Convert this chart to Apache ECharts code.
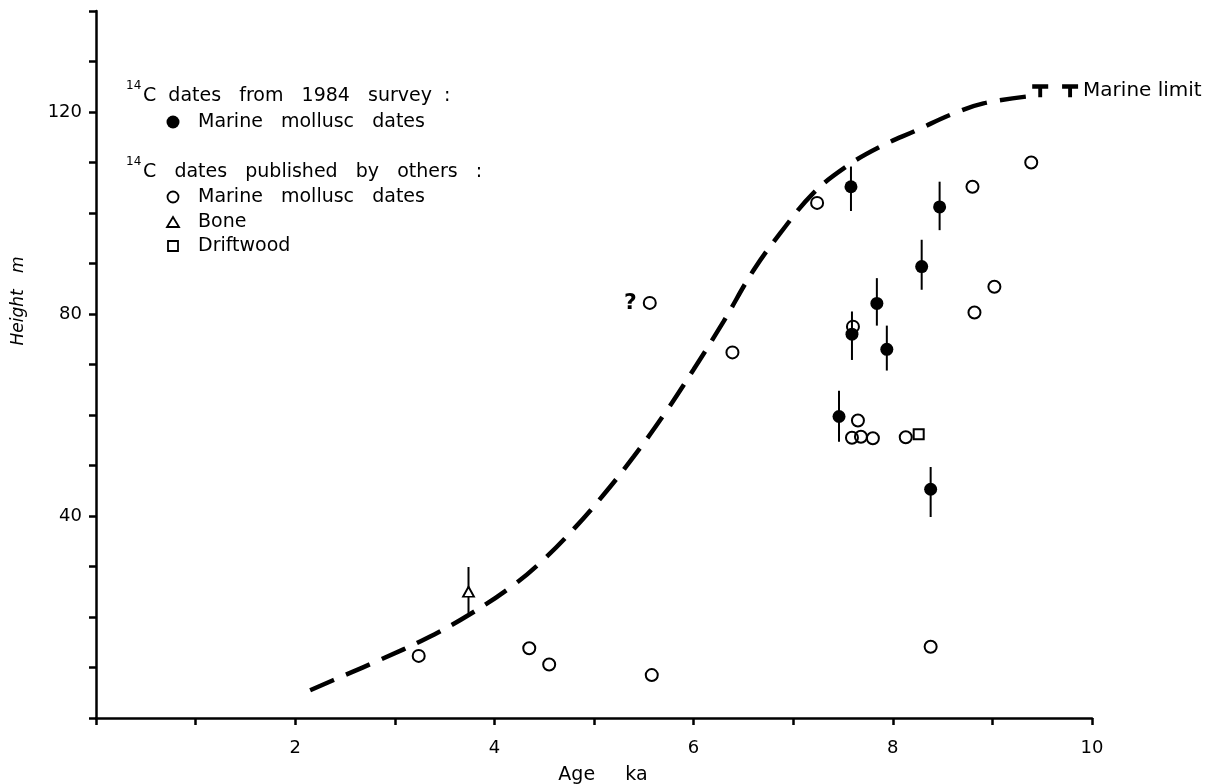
<!DOCTYPE html>
<html>
<head>
<meta charset="utf-8">
<script src="https://cdn.jsdelivr.net/npm/echarts@6/dist/echarts.min.js"></script>
<style>
html,body{margin:0;padding:0;background:#fff;}
#chart{width:1226px;height:784px;}
</style>
</head>
<body>
<div id="chart"></div>
<script>
// ---- Data ----
// 14C dates from 1984 survey: marine mollusc dates (filled circles, with error bars)
const surveyAge    = [7.58, 8.47, 8.29, 7.84, 7.59, 7.94, 7.46, 8.38];
const surveyHeight = [105.2, 101.2, 89.4, 82.1, 76.0, 73.0, 59.7, 45.3];
const surveyLow    = [100.4, 96.6, 84.8, 77.7, 70.9, 68.8, 54.7, 39.8];
const surveyHigh   = [109.2, 106.2, 94.7, 87.1, 80.5, 77.7, 64.8, 49.7];

// 14C dates published by others: marine mollusc dates (open circles)
const othersAge    = [3.24, 4.35, 4.55, 5.58, 5.56, 6.39, 7.24, 7.60, 7.65, 7.59, 7.68, 7.80, 8.13, 8.80, 8.82, 9.02, 9.39, 8.38];
const othersHeight = [12.3, 13.8, 10.6, 8.5, 82.2, 72.4, 102.0, 77.5, 58.9, 55.5, 55.7, 55.4, 55.6, 105.2, 80.3, 85.4, 110.0, 14.1];
const othersNote   = ['', '', '', '', '?', '', '', '', '', '', '', '', '', '', '', '', '', ''];

// Bone (triangle, with range)
const boneAge = [3.74];
const boneHeight = [25.0];
const boneLow = [20.8];
const boneHigh = [29.9];

// Driftwood (square)
const driftAge = [8.26];
const driftHeight = [56.2];

// Dashed relative sea-level curve
const curveAge    = [2.15, 2.5, 2.85, 3.32, 3.75, 4.19, 4.49, 4.8, 5.1, 5.4, 5.7, 6.0, 6.3, 6.6, 6.87, 7.2, 7.54, 7.87, 8.24, 8.61, 8.91, 9.36];
const curveHeight = [5.5, 8.5, 11.5, 15.8, 20.5, 26.3, 31.3, 37.5, 44.3, 51.8, 60.0, 69.0, 78.5, 88.6, 96.0, 103.9, 109.3, 113.1, 116.4, 119.7, 121.7, 123.1];

// Marine limit markers
const limitAge = [9.48, 9.78];
const limitHeight = [124.2, 124.2];
const limitLabel = ['', 'Marine limit'];

// Axis tick labels
const xLabelValues = [2, 4, 6, 8, 10];
const yLabelValues = [40, 80, 120];

// ---- Chart ----
const FONT = 'DejaVu Sans';
const chart = echarts.init(document.getElementById('chart'));

const zip = (a, b) => a.map((v, i) => [v, b[i]]);

const errRender = function (params, api) {
  const x = api.value(0), lo = api.value(1), hi = api.value(2);
  const p1 = api.coord([x, lo]);
  const p2 = api.coord([x, hi]);
  return {
    type: 'line',
    shape: { x1: p1[0], y1: p1[1], x2: p2[0], y2: p2[1] },
    style: { stroke: '#000', lineWidth: 2 }
  };
};

const tPath = 'path://M0,0 L14,0 L14,4.5 L8.7,4.5 L8.7,13 L5.3,13 L5.3,4.5 L0,4.5 Z';

const txt = (x, y, text, size) => ({
  type: 'text', x: x, y: y,
  style: { text: text, fontFamily: FONT, fontSize: size, fill: '#000', verticalAlign: 'middle' }
});

const option = {
  backgroundColor: '#fff',
  animation: false,
  grid: { left: 96, right: 134, top: 11, bottom: 66, containLabel: false, outerBoundsMode: 'none' },
  xAxis: {
    type: 'value', min: 0, max: 10, interval: 1,
    name: 'Age     ka', nameLocation: 'middle', nameGap: 48,
    nameTextStyle: { fontFamily: FONT, fontSize: 19, color: '#000', padding: [0, 0, 0, 18] },
    axisLine: { lineStyle: { color: '#000', width: 2.5 } },
    axisTick: { show: true, length: 7, lineStyle: { color: '#000', width: 2.5 } },
    axisLabel: {
      margin: 21, fontFamily: FONT, fontSize: 18, color: '#000',
      formatter: v => (xLabelValues.indexOf(v) >= 0 ? String(v) : '')
    },
    splitLine: { show: false }
  },
  yAxis: {
    type: 'value', min: 0, max: 140, interval: 10,
    axisLine: { show: true, lineStyle: { color: '#000', width: 2.5 } },
    axisTick: { show: true, length: 7, lineStyle: { color: '#000', width: 2.5 } },
    axisLabel: {
      margin: 14, fontFamily: FONT, fontSize: 18, color: '#000',
      formatter: v => (yLabelValues.indexOf(v) >= 0 ? String(v) : '')
    },
    splitLine: { show: false }
  },
  graphic: [
    { type: 'text', x: 19, y: 301, rotation: Math.PI / 2,
      style: { text: 'Height   m', fontFamily: FONT, fontSize: 17, fontStyle: 'italic', fill: '#000', align: 'center', verticalAlign: 'middle' } },
    // legend block
    txt(126, 86, '14', 12),
    txt(143, 96, 'C  dates   from   1984   survey  :', 19),
    { type: 'circle', shape: { cx: 173, cy: 122, r: 6.5 }, style: { fill: '#000' } },
    txt(198, 122, 'Marine   mollusc   dates', 19),
    txt(126, 162, '14', 12),
    txt(143, 172, 'C   dates   published   by   others   :', 19),
    { type: 'circle', shape: { cx: 173, cy: 197, r: 5.5 }, style: { fill: 'transparent', stroke: '#000', lineWidth: 1.8 } },
    txt(198, 197, 'Marine   mollusc   dates', 19),
    { type: 'polygon', shape: { points: [[167, 227], [179, 227], [173, 217]] }, style: { fill: 'transparent', stroke: '#000', lineWidth: 1.8 } },
    txt(198, 222, 'Bone', 19),
    { type: 'rect', shape: { x: 168, y: 241, width: 10, height: 10 }, style: { fill: 'transparent', stroke: '#000', lineWidth: 1.8 } },
    txt(198, 246, 'Driftwood', 19)
  ],
  series: [
    {
      name: 'Sea-level curve', type: 'line', data: zip(curveAge, curveHeight),
      smooth: 0.4, symbol: 'none',
      lineStyle: { color: '#000', width: 4.5, type: [26, 13], cap: 'butt' },
      z: 2
    },
    {
      name: 'Marine limit', type: 'scatter', data: zip(limitAge, limitHeight).map((d, i) => ({
        value: d,
        label: { show: limitLabel[i] !== '', formatter: limitLabel[i] }
      })),
      symbol: tPath, symbolSize: [16, 13],
      itemStyle: { color: '#000', opacity: 1 },
      label: { position: 'right', distance: 5, fontFamily: FONT, fontSize: 20, color: '#000' },
      z: 3
    },
    {
      name: 'Bone range', type: 'custom', renderItem: errRender,
      data: boneAge.map((x, i) => [x, boneLow[i], boneHigh[i]]),
      encode: { x: 0, y: [1, 2] }, z: 3
    },
    {
      name: 'Survey error', type: 'custom', renderItem: errRender,
      data: surveyAge.map((x, i) => [x, surveyLow[i], surveyHigh[i]]),
      encode: { x: 0, y: [1, 2] }, z: 3
    },
    {
      name: 'Others marine mollusc dates', type: 'scatter',
      data: zip(othersAge, othersHeight).map((d, i) => ({
        value: d,
        label: { show: othersNote[i] !== '', formatter: othersNote[i] }
      })),
      symbol: 'circle', symbolSize: 12,
      itemStyle: { color: 'transparent', borderColor: '#000', borderWidth: 2, opacity: 1 },
      label: { position: 'left', distance: 6, fontFamily: FONT, fontSize: 22, fontWeight: 'bold', color: '#000' },
      z: 4
    },
    {
      name: 'Bone', type: 'scatter', data: zip(boneAge, boneHeight),
      symbol: 'triangle', symbolSize: [11, 10],
      itemStyle: { color: '#fff', borderColor: '#000', borderWidth: 1.8, opacity: 1 }, z: 5
    },
    {
      name: 'Driftwood', type: 'scatter', data: zip(driftAge, driftHeight),
      symbol: 'rect', symbolSize: 10,
      itemStyle: { color: '#fff', borderColor: '#000', borderWidth: 2, opacity: 1 }, z: 5
    },
    {
      name: 'Survey marine mollusc dates', type: 'scatter', data: zip(surveyAge, surveyHeight),
      symbol: 'circle', symbolSize: 13,
      itemStyle: { color: '#000', opacity: 1 }, z: 6
    }
  ]
};
chart.setOption(option);
</script>
</body>
</html>
